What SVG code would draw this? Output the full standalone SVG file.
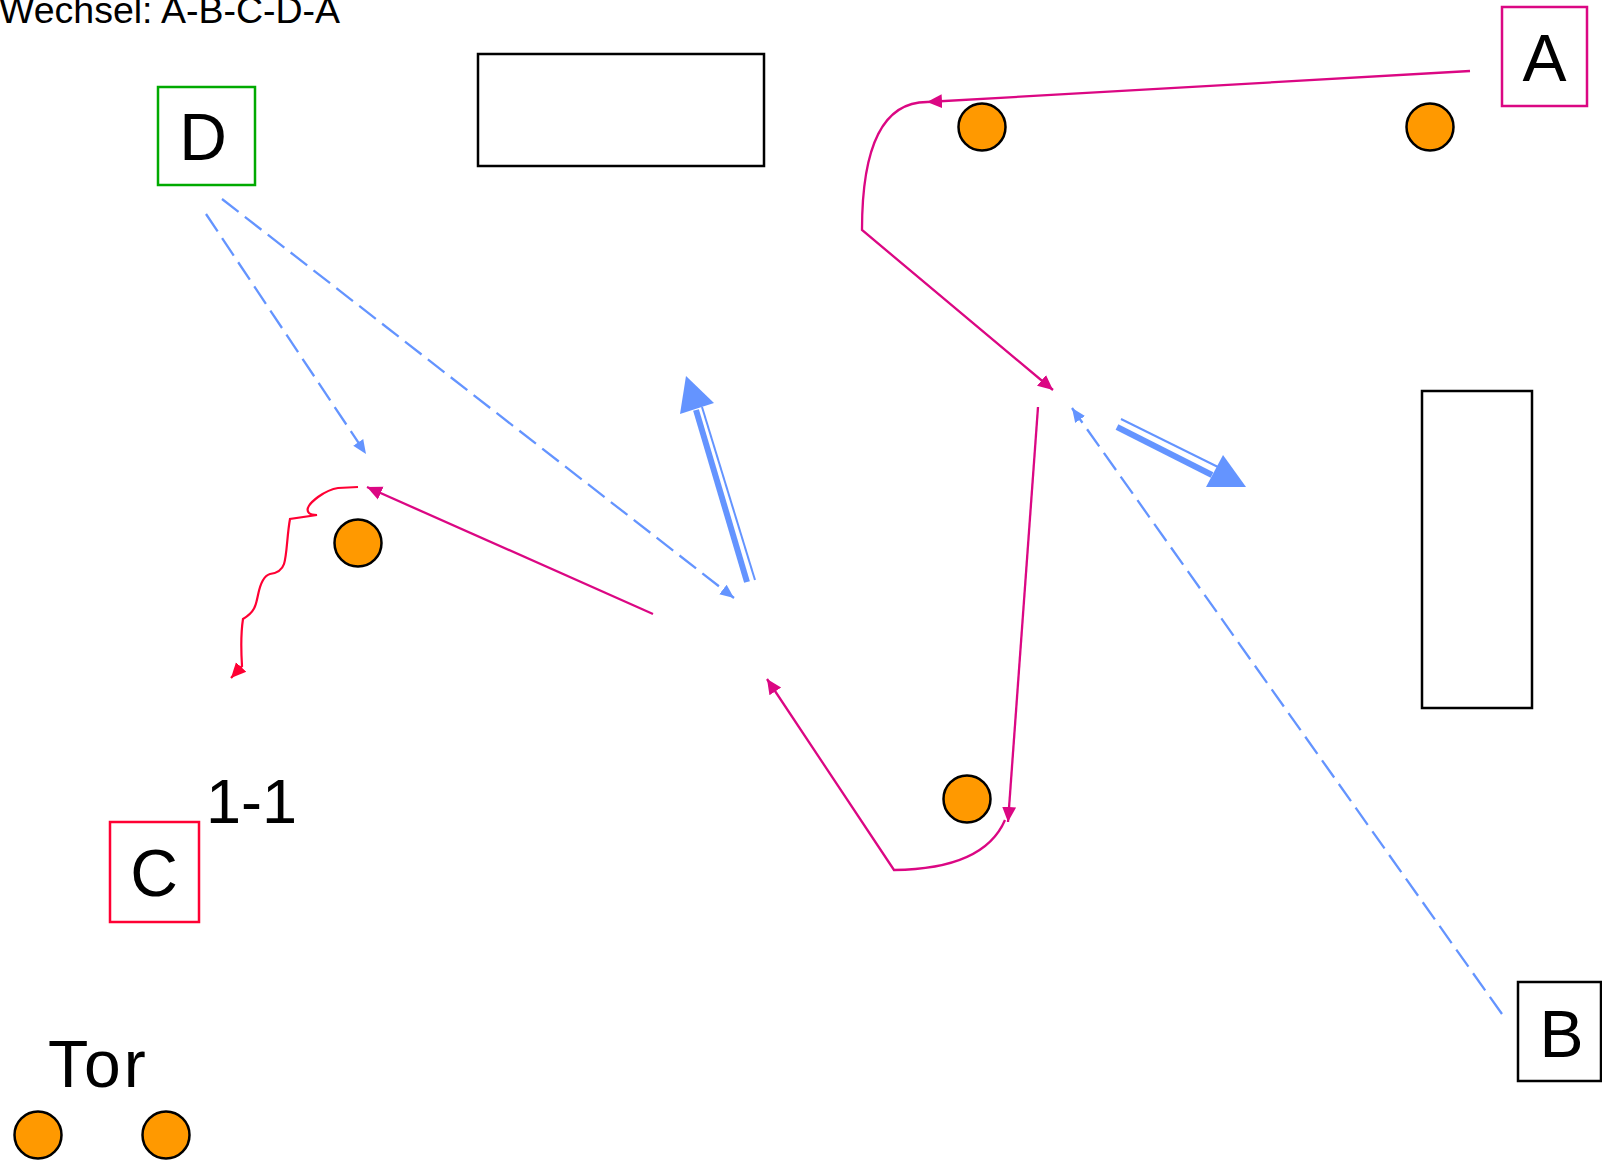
<svg xmlns="http://www.w3.org/2000/svg" width="1602" height="1161" viewBox="0 0 1602 1161">
<style>
  .txt { font-family: "Liberation Sans", Arial, sans-serif; fill: #000; }
  .lbl { font-size: 66px; text-anchor: middle; }
  .box { fill: #fff; stroke-width: 2.5; }
  .ball { fill: #ff9900; stroke: #000; stroke-width: 2.5; }
  .mag { fill: none; stroke: #db0783; stroke-width: 2.3; }
  .dash { fill: none; stroke: #6494ff; stroke-width: 2.3; stroke-dasharray: 21 8; }
  .red { fill: none; stroke: #ff0033; stroke-width: 2.2; }
  .thick { stroke: #6494ff; stroke-width: 6; }
  .thin { stroke: #6494ff; stroke-width: 2; }
</style>
<defs>
  <marker id="mMag" markerUnits="userSpaceOnUse" markerWidth="16" markerHeight="16" viewBox="0 0 16 16" refX="15" refY="8" orient="auto">
    <path d="M0,1 L15,8 L0,15 z" fill="#db0783"/>
  </marker>
  <marker id="mBlue" markerUnits="userSpaceOnUse" markerWidth="16" markerHeight="16" viewBox="0 0 16 16" refX="14" refY="7" orient="auto">
    <path d="M0,1 L14,7 L0,13 z" fill="#6494ff"/>
  </marker>
  <marker id="mRed" markerUnits="userSpaceOnUse" markerWidth="16" markerHeight="16" viewBox="0 0 16 16" refX="15" refY="8" orient="auto">
    <path d="M0,1 L15,8 L0,15 z" fill="#ff0033"/>
  </marker>
</defs>
<rect width="1602" height="1161" fill="#fff"/>

<text class="txt" x="-1" y="23" font-size="37.5">Wechsel: A-B-C-D-A</text>

<g id="field-top">
  <rect class="box" x="478" y="54" width="286" height="112" stroke="#000"/>
</g>
<g id="field-right">
  <rect class="box" x="1422" y="391" width="110" height="317" stroke="#000"/>
</g>

<g id="node-A">
  <rect class="box" x="1502" y="7" width="85" height="99" stroke="#db0783"/>
  <text class="txt lbl" x="1544.5" y="81">A</text>
</g>
<g id="node-B">
  <rect class="box" x="1518" y="982" width="83" height="99" stroke="#000"/>
  <text class="txt lbl" x="1561.5" y="1057">B</text>
</g>
<g id="node-C">
  <rect class="box" x="110" y="822" width="89" height="100" stroke="#ff0033"/>
  <text class="txt lbl" x="154" y="896">C</text>
</g>
<g id="node-D">
  <rect class="box" x="158" y="87" width="97" height="98" stroke="#00aa00"/>
  <text class="txt lbl" x="203" y="160">D</text>
</g>

<g id="label-11">
  <text class="txt" x="206" y="823" font-size="63">1-1</text>
</g>
<g id="label-tor">
  <text class="txt" x="48" y="1087" font-size="66" letter-spacing="3">Tor</text>
</g>

<g id="balls">
  <circle class="ball" cx="982" cy="127" r="23.5"/>
  <circle class="ball" cx="1430" cy="127" r="23.5"/>
  <circle class="ball" cx="358" cy="543" r="23.5" stroke="#db0783"/>
  <circle class="ball" cx="967" cy="799" r="23.5"/>
  <circle class="ball" cx="38" cy="1135" r="23.5"/>
  <circle class="ball" cx="166" cy="1135" r="23.5"/>
</g>

<g id="connectors">
  <path class="mag" d="M1470,71 L927,102" marker-end="url(#mMag)"/>
  <path class="mag" d="M927,102 Q862,102 862,230 L1053,390" marker-end="url(#mMag)"/>
  <path class="mag" d="M1038,407 L1008,822" marker-end="url(#mMag)"/>
  <path class="mag" d="M1005,820 Q984,869 894,870 L767,679" marker-end="url(#mMag)"/>
  <path class="mag" d="M653,614 L367,487" marker-end="url(#mMag)"/>

  <path class="dash" d="M206,214 L366,454" marker-end="url(#mBlue)"/>
  <path class="dash" d="M222,199 L734,598" marker-end="url(#mBlue)"/>
  <path class="dash" d="M1502,1014 L1072,408" marker-end="url(#mBlue)"/>

  <path class="red" d="M358,487 L338,488 C330,489 325,492 318,497 C310,503 305,509 309,513 C311,515 315,515 317,515 L290,519 C287,535 287,555 284,564 C282,570 278,573 270,574 C263,576 260,585 258,595 C256,605 255,612 243,619 C241,632 241,650 242,666 L231,678" marker-end="url(#mRed)"/>

  <g id="run-up">
    <line class="thick" x1="747" y1="582" x2="696" y2="410"/>
    <line class="thin" x1="755" y1="580" x2="702" y2="407"/>
    <polygon points="686,376 680,414 714,403" fill="#6494ff"/>
  </g>
  <g id="run-right">
    <line class="thick" x1="1117" y1="427" x2="1212" y2="475"/>
    <line class="thin" x1="1121" y1="419" x2="1218" y2="467"/>
    <polygon points="1246,487 1206,487 1223,455" fill="#6494ff"/>
  </g>
</g>
</svg>
